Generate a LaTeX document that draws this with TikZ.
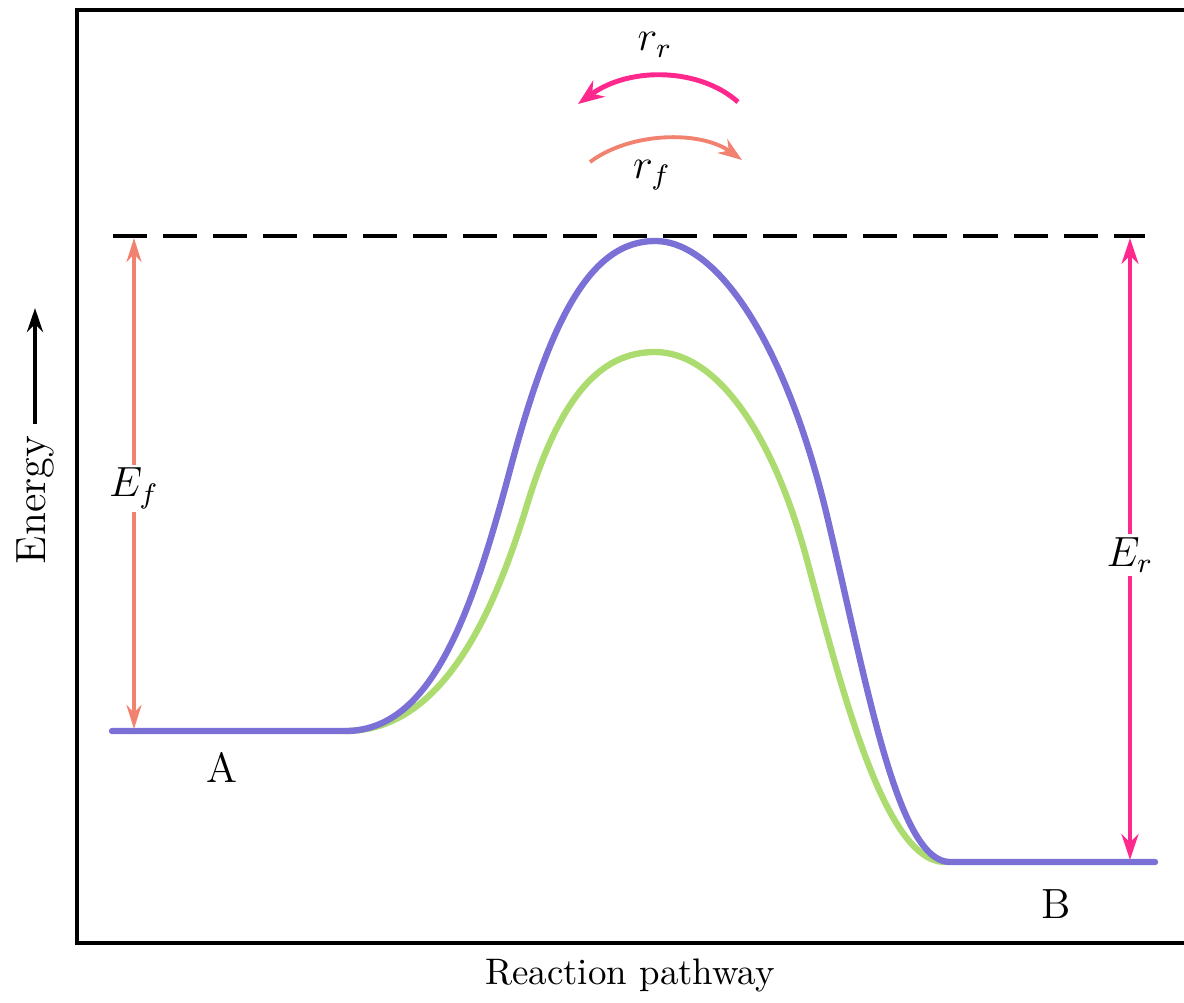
\documentclass[tikz,border=0pt]{standalone}
\usepackage{amsmath}
\usetikzlibrary{positioning, arrows.meta}
\definecolor{pathblue}{RGB}{122,112,214}
\definecolor{pathgreen}{RGB}{172,220,112}
\definecolor{fwdred}{RGB}{242,130,112}
\definecolor{revpink}{RGB}{255,40,140}

\begin{document}
\begin{tikzpicture}[x=0.01cm, y=-0.01cm, >=Stealth,
    curve/.style={line width=1.8pt, line cap=round},
    lbl/.style={font=\large, inner sep=1pt}]
    \useasboundingbox (0,0) rectangle (1184,1002);
    % Frame (open on the right)
    \draw[line width=0.9pt] (1184,10) -- (77,10) -- (77,943) -- (1184,943);
    % Level of the transition state
    \draw[line width=1.1pt, dash pattern=on 3.4mm off 1.6mm] (113,236) -- (1145,236);
    % Lower barrier (green), drawn first
    \draw[curve, pathgreen] (345,731) .. controls (440,731) and (492,620) .. (527,505)
        .. controls (560,397) and (600,352) .. (655,352)
        .. controls (715,352) and (772,430) .. (807,560)
        .. controls (842,690) and (885,862) .. (945,862);
    % Higher barrier (blue) with the two levels A and B
    \draw[curve, pathblue] (112,731) -- (345,731)
        .. controls (430,731) and (470,620) .. (510,470)
        .. controls (550,320) and (590,241) .. (655,241)
        .. controls (720,241) and (788,350) .. (828,520)
        .. controls (868,690) and (898,862) .. (950,862) -- (1155,862);
    % Level labels
    \node[font=\large] (levA) at (222,767) {A};
    \node[font=\large] (levB) at (1056,904) {B};
    % Barrier heights
    \coordinate (eftop) at (134,238);
    \coordinate (efbot) at (134,729);
    \draw[<->, fwdred, line width=1.1pt, >={Stealth[length=2.4mm, width=1.5mm]}]
        (eftop) -- (efbot) node[pos=0.51, lbl, fill=white, text=black] (ef) {$E_f$};
    \coordinate (ertop) at (1130,238);
    \coordinate (erbot) at (1130,860);
    \draw[<->, revpink, line width=1.1pt, >={Stealth[length=2.6mm, width=1.7mm]}]
        (ertop) -- (erbot) node[pos=0.51, lbl, fill=white, text=black] (er) {$E_r$};
    % Rates over the barrier
    \node[lbl] (rr) at (655,45) {$r_r$};
    \coordinate (rrstart) at (738,102);
    \coordinate (rrend) at (578,104);
    \draw[->, revpink, line width=1.4pt, >={Stealth[length=2.6mm, width=2mm]}]
        (rrstart) .. controls (700,68) and (630,66) .. (rrend);
    \node[lbl] (rf) at (652,175) {$r_f$};
    \coordinate (rfstart) at (590,162);
    \coordinate (rfend) at (742,160);
    \draw[->, fwdred, line width=1.1pt, >={Stealth[length=2.4mm, width=1.7mm]}]
        (rfstart) .. controls (630,132) and (700,130) .. (rfend);
    % Axis labels
    \node[rotate=90, font=\large] (energy) at (35,500) {Energy};
    \coordinate (energytip) at (35,308);
    \draw[->, line width=1.2pt, >={Stealth[length=2.4mm, width=1.6mm]}]
        (energy.east) -- (energytip);
    \node[font=\fontsize{10.5}{12}\selectfont] (pathway) at (630,975) {Reaction pathway};
\end{tikzpicture}
\end{document}
